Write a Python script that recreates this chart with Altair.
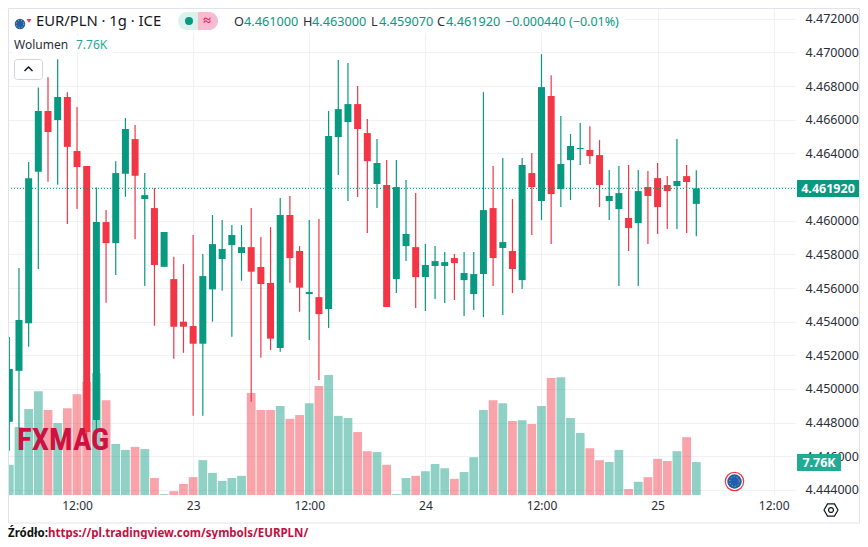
import altair as alt
import pandas as pd

hours = list(range(72))
opens = [4.44805,4.45108,4.45390,4.46291,4.46652,4.46598,4.46735,4.46414,4.46325,4.44816,4.45992,4.45867,4.46279,4.46485,4.46129,4.46075,4.45726,4.45653,4.45400,4.45374,4.45269,4.45592,4.45772,4.45855,4.45808,4.45843,4.45725,4.45630,4.45243,4.46034,4.45820,4.45564,4.45546,4.45475,4.46497,4.46586,4.46693,4.46521,4.46218,4.46212,4.45653,4.45849,4.45843,4.45665,4.45731,4.45731,4.45778,4.45647,4.45564,4.45683,4.46075,4.45838,4.45820,4.45647,4.46283,4.46117,4.46741,4.46188,4.46360,4.46426,4.46420,4.46390,4.46117,4.46069,4.46016,4.45986,4.46200,4.46253,4.46212,4.46206,4.46265,4.46100]
highs = [4.45309,4.45719,4.46349,4.46792,4.46852,4.46959,4.46764,4.46675,4.46325,4.46198,4.46063,4.46354,4.46610,4.46568,4.46283,4.46194,4.45933,4.45786,4.45742,4.45915,4.45802,4.46034,4.46004,4.45974,4.45974,4.46075,4.45903,4.45962,4.46135,4.46147,4.45849,4.46004,4.46010,4.46652,4.46955,4.46937,4.46800,4.46604,4.46485,4.46360,4.46360,4.46242,4.46164,4.45861,4.45849,4.45814,4.45802,4.45814,4.45814,4.46764,4.46325,4.46372,4.46129,4.46372,4.46402,4.46990,4.46865,4.46622,4.46515,4.46580,4.46562,4.46479,4.46301,4.46325,4.46331,4.46301,4.46295,4.46343,4.46265,4.46485,4.46331,4.46300]
lows = [4.44633,4.44768,4.45251,4.45713,4.46231,4.46214,4.45980,4.46069,4.44649,4.44756,4.45512,4.45677,4.46142,4.45891,4.45612,4.45376,4.45726,4.45180,4.45215,4.44841,4.44841,4.45400,4.45584,4.45310,4.45643,4.44924,4.45186,4.45231,4.45221,4.45631,4.45459,4.45291,4.45053,4.45362,4.46271,4.46117,4.46141,4.45927,4.46075,4.45487,4.45570,4.45760,4.45481,4.45463,4.45534,4.45511,4.45529,4.45433,4.45469,4.45427,4.45612,4.45439,4.45570,4.45594,4.45915,4.46004,4.45861,4.46081,4.46123,4.46331,4.46337,4.46081,4.46004,4.45612,4.45820,4.45612,4.45861,4.45921,4.45950,4.45950,4.45927,4.45907]
closes = [4.45119,4.45410,4.46253,4.46652,4.46527,4.46735,4.46439,4.46319,4.44744,4.45992,4.45867,4.46283,4.46545,4.46267,4.46152,4.45737,4.45933,4.45370,4.45370,4.45269,4.45671,4.45861,4.45832,4.45915,4.45843,4.45697,4.45624,4.45299,4.46034,4.45778,4.45602,4.45576,4.45445,4.46503,4.46663,4.46693,4.46545,4.46354,4.46343,4.45487,4.46200,4.45921,4.45665,4.45737,4.45760,4.45754,4.45748,4.45689,4.45683,4.46063,4.45778,4.45873,4.45713,4.46331,4.46200,4.46794,4.46158,4.46337,4.46444,4.46432,4.46384,4.46212,4.46147,4.46164,4.45956,4.46176,4.46147,4.46081,4.46176,4.46236,4.46230,4.46192]
volumes = [7.1,16.0,20.2,24.4,20.0,16.9,20.4,23.7,26.6,28.7,22.3,12.0,10.6,11.3,10.8,4.0,0.2,0.9,2.6,4.2,8.2,5.2,3.3,4.0,4.5,24.0,20.0,20.0,20.9,17.9,18.8,21.6,25.6,28.2,18.6,18.1,14.8,10.3,10.1,7.1,0.2,4.0,4.5,5.6,7.3,6.3,3.8,5.4,8.9,20.0,22.3,21.6,17.4,17.6,16.7,20.9,27.5,27.7,18.1,14.6,11.0,8.2,7.76,10.6,1.4,3.1,4.2,8.5,8.0,10.3,13.6,7.76]
y_ticks = [4.444,4.446,4.448,4.450,4.452,4.454,4.456,4.458,4.460,4.462,4.464,4.466,4.468,4.470,4.472]
x_ticks = [7,19,31,43,55,67,79]
x_labels = ["12:00","23","12:00","24","12:00","25","12:00"]

GREEN, RED = "#089981", "#F23645"
INK = "#2a2e39"
GRID = "#eff1f5"
FONT = "Noto Sans"

df = pd.DataFrame({"h": hours, "o": opens, "hi": highs, "lo": lows, "c": closes, "v": volumes})
df["dir"] = ["up" if c >= o else "down" for o, c in zip(opens, closes)]

label_expr = "".join(f"datum.value=={t}?'{l}':" for t, l in zip(x_ticks, x_labels)) + "''"

x_enc = alt.X("h:Q", title=None,
              scale=alt.Scale(domain=[-0.134, 81.2], nice=False, zero=False, padding=0),
              axis=alt.Axis(values=x_ticks, labelExpr=label_expr, grid=True, gridColor=GRID,
                            ticks=False, domain=False, labelColor=INK, labelFont=FONT,
                            labelFontSize=12, labelPadding=5, labelOverlap=False, labelFlush=False))
price_scale = alt.Scale(domain=[4.4437, 4.47264], nice=False, zero=False)
color_enc = alt.Color("dir:N", legend=None, scale=alt.Scale(domain=["up", "down"], range=[GREEN, RED]))

vol = alt.Chart(df).mark_bar(size=8.8, opacity=0.45).encode(
    x=x_enc,
    y=alt.Y("v:Q", axis=None, title=None, scale=alt.Scale(domain=[0, 114.5], nice=False)),
    color=color_enc)

wick = alt.Chart(df).mark_rule(strokeWidth=1.2).encode(
    x=x_enc,
    y=alt.Y("lo:Q", title=None, scale=price_scale,
            axis=alt.Axis(orient="right", values=y_ticks, grid=True, gridColor=GRID,
                          labelExpr="abs(datum.value-4.462)<0.000001?'':format(datum.value,'.6f')",
                          ticks=False, domain=False, labelColor=INK, labelFont=FONT,
                          labelFontSize=12.5, labelPadding=10, labelOverlap=False, labelFlush=False)),
    y2="hi:Q", color=color_enc)

body = alt.Chart(df).mark_bar(size=7).encode(
    x=x_enc,
    y=alt.Y("o:Q", axis=None, title=None, scale=price_scale),
    y2="c:Q", color=color_enc)

one = pd.DataFrame({"k": [0]})

def txt(s, x, y, color=INK, size=12, weight="normal", align="left", font=FONT):
    return alt.Chart(one).mark_text(text=s, color=color, fontSize=size, fontWeight=weight,
                                    align=align, baseline="middle", font=font).encode(
        x=alt.value(x - 8), y=alt.value(y - 8))

def box(x1, x2, y1, y2, fill, stroke=None, **kw):
    if stroke:
        kw["stroke"] = stroke
    return alt.Chart(one).mark_rect(color=fill, **kw).encode(
        x=alt.value(x1 - 8), x2=alt.value(x2 - 8), y=alt.value(y1 - 8), y2=alt.value(y2 - 8))

def line(x1, x2, y1, y2, color, **kw):
    return alt.Chart(one).mark_rule(color=color, **kw).encode(
        x=alt.value(x1 - 8), x2=alt.value(x2 - 8), y=alt.value(y1 - 8), y2=alt.value(y2 - 8))

def dot(x, y, size, **kw):
    return alt.Chart(one).mark_point(**kw).encode(x=alt.value(x - 8), y=alt.value(y - 8), size=alt.value(size))

HEX = "M-1,0L-0.5,-0.87L0.5,-0.87L1,0L0.5,0.87L-0.5,0.87Z"
CHEV = "M-1,0.5L0,-0.5L1,0.5"

price_line = alt.Chart(pd.DataFrame({"p": [closes[-1]]})).mark_rule(
    color=GREEN, strokeDash=[1, 2], strokeWidth=1).encode(
    y=alt.Y("p:Q", axis=None, title=None, scale=price_scale),
    x=alt.value(0), x2=alt.value(787))

layers = [
    vol, wick, body, price_line,
    # white backing of the legend rows
    box(8, 625, 10, 33, "#ffffff"),
    box(12, 113, 36, 53, "#ffffff"),
    # frame
    line(8.5, 8.5, 8.5, 523, "#e0e3eb"),
    line(8.5, 859.5, 8.5, 8.5, "#e0e3eb"),
    line(859.5, 859.5, 8.5, 523, "#e0e3eb"),
    line(8.5, 859.5, 523, 523, "#e0e3eb"),
    # header
    dot(20, 24, 110, filled=True, color="#1d5fae", opacity=1),
    dot(20, 24, 55, filled=False, color="#e8c547", strokeDash=[1, 2], strokeWidth=1, opacity=1),
    dot(29, 21, 22, filled=True, color=RED, shape="triangle-down", opacity=1),
    txt("EUR/PLN · 1g · ICE", 36, 22, size=14.8, color="#131722"),
    box(178, 198, 12, 30, "#d9f2ec", cornerRadiusTopLeft=9, cornerRadiusBottomLeft=9),
    box(198, 218, 12, 30, "#f8bbd0", cornerRadiusTopRight=9, cornerRadiusBottomRight=9),
    dot(189, 21, 64, filled=True, color=GREEN, opacity=1),
    txt("≈", 207, 21, color="#e91e63", size=14, weight="bold", align="center"),
    txt("O", 234, 22, size=12.7), txt("4.461000", 244, 22, color=GREEN, size=12.7),
    txt("H", 303, 22, size=12.7), txt("4.463000", 312, 22, color=GREEN, size=12.7),
    txt("L", 371, 22, size=12.7), txt("4.459070", 379, 22, color=GREEN, size=12.7),
    txt("C", 437, 22, size=12.7), txt("4.461920", 446, 22, color=GREEN, size=12.7),
    txt("−0.000440", 505, 22, color=GREEN, size=12.5),
    txt("(−0.01%)", 569, 22, color=GREEN, size=12.5),
    txt("Wolumen", 14, 45, size=12),
    txt("7.76K", 76, 45, color="#22ab94", size=12),
    # collapse button
    box(14.5, 42.5, 59.5, 79.5, "#ffffff", stroke="#d1d4dc", cornerRadius=3),
    dot(28.5, 69, 64, shape=CHEV, filled=False, color="#131722", strokeWidth=1.5, opacity=1),
    # price tags
    box(797, 859, 180, 197, GREEN),
    txt("4.461920", 828, 188.5, color="#ffffff", size=12.5, weight="bold", align="center"),
    box(797, 841, 454, 471, "#22ab94"),
    txt("7.76K", 819, 462.5, color="#ffffff", size=12.5, weight="bold", align="center"),
    # event badge
    dot(734.5, 481.5, 380, filled=True, color=RED, opacity=1),
    dot(734.5, 481.5, 290, filled=True, color="#ffffff", opacity=1),
    dot(734.5, 481.5, 210, filled=True, color="#1d5fae", opacity=1),
    dot(734.5, 481.5, 90, filled=False, color="#e8c547", strokeDash=[1, 2], strokeWidth=1, opacity=1),
    # settings icon
    dot(831, 510, 196, shape=HEX, filled=False, color="#131722", strokeWidth=1.2, opacity=1),
    dot(831, 510, 24, filled=False, color="#131722", strokeWidth=1.2, opacity=1),
    # watermark
    txt("FXMAG", 17, 441, color="#d0103f", size=31, weight="bold", font="'Roboto Condensed','DejaVu Sans Condensed','Liberation Sans',sans-serif"),
    # source line
    txt("Źródło:", 8, 534, color="#111111", size=11.5, weight="bold"),
    txt("https://pl.tradingview.com/symbols/EURPLN/", 48, 534, color="#c2103f", size=11.5, weight="bold"),
]

chart = alt.layer(*layers).resolve_scale(y="independent").properties(
    width=787, height=487,
    padding={"left": 0, "top": 0, "right": 65, "bottom": 44},
    autosize=alt.AutoSizeParams(type="none"),
    background="#ffffff",
).configure_view(stroke=None)

chart.save("out.html", embed_options={"renderer": "svg", "actions": False})
